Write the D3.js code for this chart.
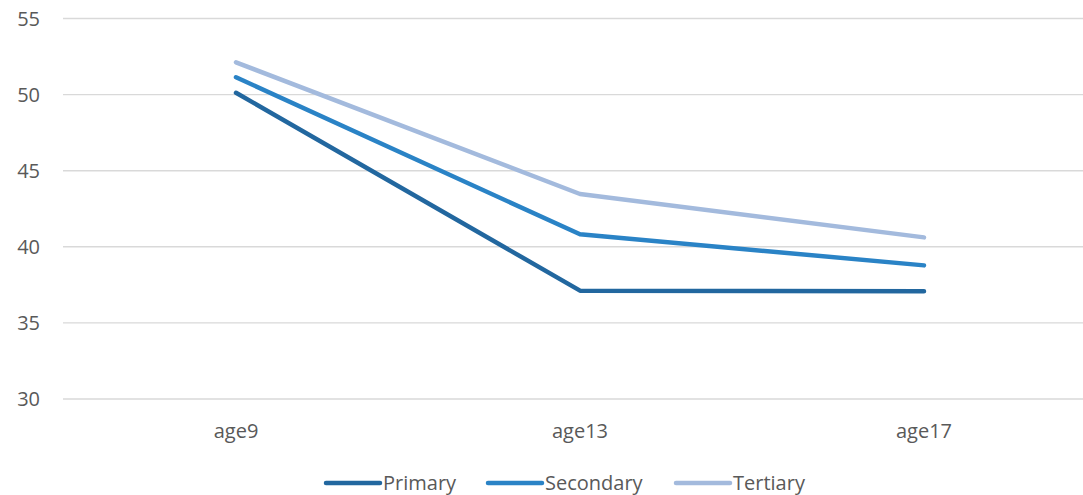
<!DOCTYPE html>
<html>
<head>
<meta charset="utf-8">
<script src="https://cdn.jsdelivr.net/npm/d3@7"></script>
<style>
  html, body { margin: 0; padding: 0; background: #fff; }
  svg { display: block; font-family: "Open Sans", "Noto Sans", sans-serif; }
</style>
</head>
<body>
<svg id="chart" width="1083" height="495"></svg>
<script>
// Categories along the x axis
const ages = ["age9", "age13", "age17"];

// Series values
const primary   = [50.12, 37.12, 37.08];
const secondary = [51.14, 40.82, 38.78];
const tertiary  = [52.12, 43.47, 40.62];

// Y axis ticks
const yTicks = [30, 35, 40, 45, 50, 55];

const seriesNames  = ["Primary", "Secondary", "Tertiary"];
const seriesValues = [primary, secondary, tertiary];
const seriesColors = ["#22679f", "#2a83c6", "#a3badd"];

const svg = d3.select("#chart");

const x = d3.scalePoint().domain(ages).range([64, 1096]).padding(0.5);
const y = d3.scaleLinear().domain([30, 55]).range([399, 18.5]);

// Horizontal gridlines
svg.append("g")
  .selectAll("line")
  .data(yTicks)
  .join("line")
  .attr("x1", 63).attr("x2", 1100)
  .attr("y1", d => y(d)).attr("y2", d => y(d))
  .attr("stroke", "#d9d9d9")
  .attr("stroke-width", 1.4);

// Y axis labels
svg.append("g")
  .selectAll("text")
  .data(yTicks)
  .join("text")
  .attr("x", 40)
  .attr("y", d => y(d))
  .attr("dy", "0.35em")
  .attr("text-anchor", "end")
  .attr("fill", "#595959")
  .attr("font-size", 20)
  .text(d => d);

// X axis labels
svg.append("g")
  .selectAll("text")
  .data(ages)
  .join("text")
  .attr("x", d => x(d))
  .attr("y", 438)
  .attr("text-anchor", "middle")
  .attr("fill", "#595959")
  .attr("font-size", 20)
  .text(d => d);

// Series lines
const line = d3.line()
  .x((d, i) => x(ages[i]))
  .y(d => y(d));

svg.append("g")
  .selectAll("path")
  .data(seriesValues)
  .join("path")
  .attr("d", d => line(d))
  .attr("fill", "none")
  .attr("stroke", (d, i) => seriesColors[i])
  .attr("stroke-width", 4.5)
  .attr("stroke-linecap", "round")
  .attr("stroke-linejoin", "round");

// Legend
const legendX = [326, 488, 676];
const legend = svg.append("g")
  .selectAll("g")
  .data(seriesNames)
  .join("g")
  .attr("transform", (d, i) => `translate(${legendX[i]},483)`);

legend.append("line")
  .attr("x1", 0).attr("x2", 54)
  .attr("y1", 0).attr("y2", 0)
  .attr("stroke", (d, i) => seriesColors[i])
  .attr("stroke-width", 4.5)
  .attr("stroke-linecap", "round");

legend.append("text")
  .attr("x", 57)
  .attr("y", 0)
  .attr("dy", "0.33em")
  .attr("fill", "#595959")
  .attr("font-size", 20)
  .text(d => d);
</script>
</body>
</html>
